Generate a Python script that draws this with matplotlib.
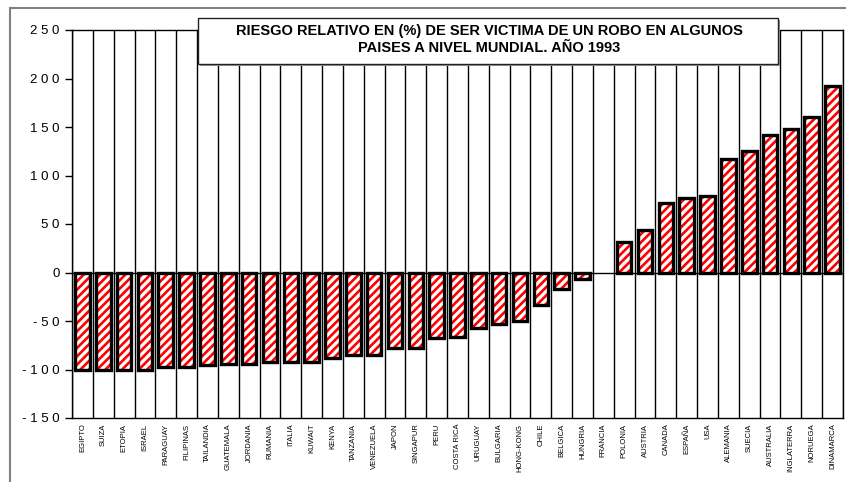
import matplotlib
matplotlib.use("Agg")
import matplotlib.pyplot as plt
from matplotlib.patches import Rectangle
from matplotlib.ticker import FixedLocator, FuncFormatter

plt.rcParams['font.family'] = ['Liberation Sans', 'DejaVu Sans']
plt.rcParams['hatch.linewidth'] = 1.9

paises = ["EGIPTO", "SUIZA", "ETOPIA", "ISRAEL", "PARAGUAY", "FILIPINAS",
          "TAILANDIA", "GUATEMALA", "JORDANIA", "RUMANIA", "ITALIA", "KUWAIT",
          "KENYA", "TANZANIA", "VENEZUELA", "JAPON", "SINGAPUR", "PERU",
          "COSTA RICA", "URUGUAY", "BULGARIA", "HONG-KONG", "CHILE", "BELGICA",
          "HUNGRIA", "FRANCIA", "POLONIA", "AUSTRIA", "CANADA", "ESPAÑA", "USA",
          "ALEMANIA", "SUECIA", "AUSTRALIA", "INGLATERRA", "NORUEGA", "DINAMARCA"]
riesgo = [-100, -100, -100, -100, -97, -97,
          -95, -94, -94, -92, -92, -92,
          -88, -85, -85, -78, -78, -68,
          -67, -57, -53, -50, -34, -17,
          -7, 0, 31, 44, 72, 77, 79,
          117, 125, 142, 148, 160, 192]
y_ticks = [-150, -100, -50, 0, 50, 100, 150, 200, 250]
titulo = ("RIESGO RELATIVO EN (%) DE SER VICTIMA DE UN ROBO EN ALGUNOS\n"
          "PAISES A NIVEL MUNDIAL. AÑO 1993")

W, H = 846, 482
fig = plt.figure(figsize=(W / 100, H / 100), dpi=100)
ax = fig.add_axes([72 / W, 1 - 418 / H, (843 - 72) / W, (418 - 30) / H])

n = len(paises)
x = list(range(n))

# striped fill, then a heavy black outline on top (none for empty bars)
ax.bar(x, riesgo, width=0.7, facecolor="white", edgecolor="#ff0000",
       hatch="////", linewidth=0, zorder=3)
ax.bar(x, riesgo, width=0.7, fill=False, edgecolor="black",
       linewidth=[2.4 if v != 0 else 0 for v in riesgo], zorder=4)

ax.set_xlim(-0.5, n - 0.5)
ax.set_ylim(-150, 250)

# vertical separators between countries
for k in range(n + 1):
    ax.axvline(k - 0.5, color="black", linewidth=1.0, zorder=1)
ax.axhline(0, color="black", linewidth=1.0, zorder=2)

ax.yaxis.set_major_locator(FixedLocator(y_ticks))
ax.yaxis.set_major_formatter(FuncFormatter(lambda v, p: " ".join(str(int(v)))))
ax.tick_params(axis="y", direction="out", length=5, width=1, pad=4,
               labelsize=9.5)
ax.set_xticks(x)
ax.set_xticklabels(paises, rotation=90, fontsize=5.5, va="top")
ax.tick_params(axis="x", length=0, pad=4)

for s in ax.spines.values():
    s.set_linewidth(1.0)
    s.set_color("black")

# outer chart frame
fig.patches.append(Rectangle((10 / W, -0.1), 1.2, 1.1 - 8 / H,
                             transform=fig.transFigure, fill=False,
                             edgecolor="#808080", linewidth=1.5, zorder=0))

# title box
fig.patches.append(Rectangle((200 / W, 1 - 66 / H), (780 - 200) / W, (66 - 20) / H,
                             transform=fig.transFigure, facecolor="#999999",
                             edgecolor="none", zorder=5))
fig.patches.append(Rectangle((198 / W, 1 - 64 / H), (778 - 198) / W, (64 - 18) / H,
                             transform=fig.transFigure, facecolor="white",
                             edgecolor="#222222", linewidth=1.0, zorder=6))
fig.text(489 / W, 1 - 39.5 / H, titulo, ha="center", va="center",
         fontsize=10.5, fontweight="bold", linespacing=1.25, zorder=7)

fig.savefig("out.png", dpi=100)
